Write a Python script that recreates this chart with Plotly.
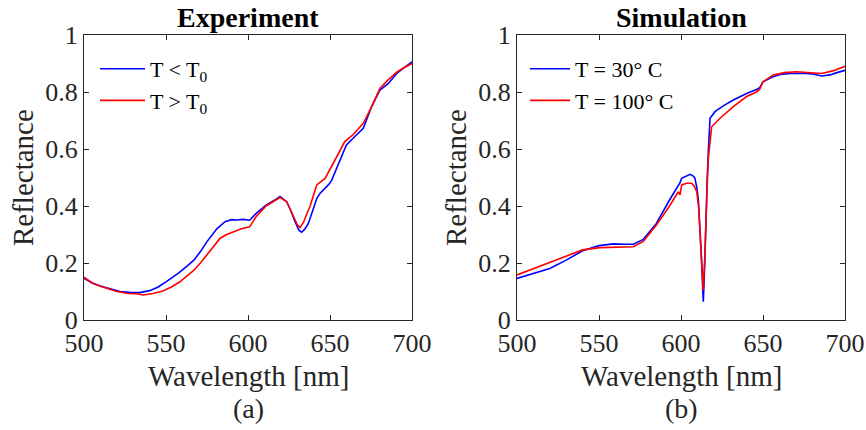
import plotly.graph_objects as go

# ---------------- data ----------------
exp_blue_wl = [500, 505, 510, 515, 522, 528, 534, 540, 545, 550, 558, 563, 567, 571, 575, 581, 586, 590, 593, 597,
               601, 605, 611, 616, 619.5, 623.6, 626, 628.7, 631, 632.7, 634.5, 636.8, 639.8, 642, 644, 646, 649,
               651, 654, 657, 660, 665, 670.3, 675.4, 680.5, 685.6, 690.7, 695, 700]
exp_blue_r = [0.146, 0.13, 0.119, 0.11, 0.10, 0.097, 0.096, 0.103, 0.115, 0.134, 0.166, 0.19, 0.21, 0.24, 0.275,
              0.32, 0.345, 0.352, 0.351, 0.353, 0.35, 0.374, 0.403, 0.42, 0.433, 0.415, 0.385, 0.345, 0.315, 0.308,
              0.318, 0.339, 0.386, 0.427, 0.445, 0.456, 0.474, 0.49, 0.532, 0.575, 0.614, 0.643, 0.673, 0.749,
              0.807, 0.83, 0.865, 0.885, 0.906]

exp_red_wl = [500, 505, 510, 515, 520, 527, 532, 536, 542, 548, 553, 558.5, 563, 566.7, 571, 574.8, 579, 583, 587,
              591, 596, 601, 605, 611, 615, 619.5, 623.6, 627, 630, 631.7, 634, 636.8, 637.8, 641.9, 647, 652, 659,
              664, 670.3, 675.4, 680.5, 685, 690.7, 695, 700]
exp_red_r = [0.15, 0.13, 0.118, 0.108, 0.10, 0.093, 0.092, 0.088, 0.093, 0.102, 0.115, 0.134, 0.155, 0.173, 0.20,
             0.228, 0.26, 0.287, 0.30, 0.31, 0.32, 0.327, 0.363, 0.40, 0.415, 0.43, 0.415, 0.37, 0.335, 0.324,
             0.345, 0.386, 0.398, 0.474, 0.497, 0.55, 0.626, 0.65, 0.69, 0.749, 0.813, 0.84, 0.87, 0.885, 0.90]

sim_blue_wl = [500, 510, 520, 530, 540, 550, 558.7, 565, 571, 577, 585, 593, 599.4, 600.4, 603, 605.5, 607.5, 608.5,
               609.8, 610.6, 612.2, 613.6, 614.5, 615.2, 616, 616.7, 617.7, 620.7, 626, 631.9, 640, 646, 648, 650,
               656.3, 661, 666.5, 676.6, 681, 685.8, 690.9, 695, 700]
sim_blue_r = [0.146, 0.163, 0.181, 0.21, 0.243, 0.261, 0.267, 0.266, 0.266, 0.283, 0.339, 0.421, 0.482, 0.497,
              0.503, 0.511, 0.505, 0.497, 0.46, 0.421, 0.246, 0.064, 0.2, 0.362, 0.5, 0.596, 0.708, 0.731, 0.752,
              0.772, 0.795, 0.809, 0.815, 0.836, 0.854, 0.862, 0.865, 0.865, 0.862, 0.856, 0.86, 0.868, 0.876]

sim_red_wl = [500, 510, 520, 530, 540, 550.6, 560, 571, 577, 585, 593, 598.4, 599.4, 600.4, 603.5, 606.5, 608,
              609.6, 610.7, 611.6, 612.6, 613.6, 614.5, 615.2, 616, 616.7, 617.7, 618.7, 623.8, 631.9, 640, 646,
              648, 650, 656.3, 663, 670.5, 678.7, 685.8, 693, 699, 700]
sim_red_r = [0.158, 0.18, 0.201, 0.225, 0.246, 0.254, 0.256, 0.257, 0.276, 0.333, 0.40, 0.45, 0.439, 0.474, 0.48,
             0.48, 0.47, 0.45, 0.4, 0.304, 0.2, 0.105, 0.22, 0.362, 0.48, 0.57, 0.64, 0.678, 0.708, 0.749, 0.784,
             0.80, 0.81, 0.836, 0.86, 0.868, 0.871, 0.868, 0.865, 0.875, 0.889, 0.89]

x_ticks = [500, 550, 600, 650, 700]
y_ticks = [0, 0.2, 0.4, 0.6, 0.8, 1]
y_tick_text = ["0", "0.2", "0.4", "0.6", "0.8", "1"]

titles = ["Experiment", "Simulation"]
x_label = "Wavelength [nm]"
y_label = "Reflectance"
panel_labels = ["(a)", "(b)"]
exp_names = ["T &lt; T<sub>0</sub>", "T &gt; T<sub>0</sub>"]
sim_names = ["T = 30° C", "T = 100° C"]

# ---------------- figure ----------------
W, H = 866, 430
FONT = "Liberation Serif"
BLUE, RED = "#0000FF", "#FF0000"
AX = "#262626"

fig = go.Figure()
fig.add_trace(go.Scatter(x=exp_blue_wl, y=exp_blue_r, mode="lines", name=exp_names[0],
                         line=dict(color=BLUE, width=1.6), xaxis="x", yaxis="y", legend="legend"))
fig.add_trace(go.Scatter(x=exp_red_wl, y=exp_red_r, mode="lines", name=exp_names[1],
                         line=dict(color=RED, width=1.6), xaxis="x", yaxis="y", legend="legend"))
fig.add_trace(go.Scatter(x=sim_blue_wl, y=sim_blue_r, mode="lines", name=sim_names[0],
                         line=dict(color=BLUE, width=1.6), xaxis="x2", yaxis="y2", legend="legend2"))
fig.add_trace(go.Scatter(x=sim_red_wl, y=sim_red_r, mode="lines", name=sim_names[1],
                         line=dict(color=RED, width=1.6), xaxis="x2", yaxis="y2", legend="legend2"))

x1dom = [84 / W, 412 / W]
x2dom = [517 / W, 845 / W]
ydom = [(H - 320) / H, (H - 35) / H]

axis_common = dict(showline=True, linecolor=AX, linewidth=1.2, mirror="ticks", ticks="inside",
                   ticklen=5, tickwidth=1.2, tickcolor=AX, showgrid=False, zeroline=False,
                   automargin=False, tickfont=dict(family=FONT, size=26, color=AX))

fig.update_layout(
    template="none",
    width=W, height=H,
    margin=dict(l=0, r=0, t=0, b=0, pad=0),
    paper_bgcolor="white", plot_bgcolor="white",
    font=dict(family=FONT, color=AX),
    xaxis=dict(domain=x1dom, range=[500, 700], tickvals=x_ticks, anchor="y", **axis_common),
    yaxis=dict(domain=ydom, range=[0, 1], tickvals=y_ticks, ticktext=y_tick_text, anchor="x", **axis_common),
    xaxis2=dict(domain=x2dom, range=[500, 700], tickvals=x_ticks, anchor="y2", **axis_common),
    yaxis2=dict(domain=ydom, range=[0, 1], tickvals=y_ticks, ticktext=y_tick_text, anchor="x2", **axis_common),
    legend=dict(x=95 / W, y=(H - 48) / H, xanchor="left", yanchor="top", bgcolor="rgba(0,0,0,0)",
                font=dict(family=FONT, size=22, color="black"), tracegroupgap=0, itemwidth=45),
    legend2=dict(x=525 / W, y=(H - 48) / H, xanchor="left", yanchor="top", bgcolor="rgba(0,0,0,0)",
                 font=dict(family=FONT, size=22, color="black"), tracegroupgap=0, itemwidth=40),
)

annots = []
centers = [(x1dom[0] + x1dom[1]) / 2, (x2dom[0] + x2dom[1]) / 2]
for i, c in enumerate(centers):
    annots.append(dict(text="<b>" + titles[i] + "</b>", x=c, y=(H - 17) / H, xref="paper", yref="paper",
                       showarrow=False, font=dict(family=FONT, size=28, color="black"),
                       xanchor="center", yanchor="middle"))
    annots.append(dict(text=x_label, x=c, y=(H - 376) / H, xref="paper", yref="paper",
                       showarrow=False, font=dict(family=FONT, size=29, color=AX),
                       xanchor="center", yanchor="middle"))
    annots.append(dict(text=panel_labels[i], x=c, y=(H - 408) / H, xref="paper", yref="paper",
                       showarrow=False, font=dict(family=FONT, size=28, color=AX),
                       xanchor="center", yanchor="middle"))
ylab_x = [23 / W, 456 / W]
for xx in ylab_x:
    annots.append(dict(text=y_label, x=xx, y=(H - 178) / H, xref="paper", yref="paper", textangle=-90,
                       showarrow=False, font=dict(family=FONT, size=29, color=AX),
                       xanchor="center", yanchor="middle"))
fig.update_layout(annotations=annots)

fig.write_html("out.html", config={"displayModeBar": False},
               post_script="document.body.style.margin='0px';")
